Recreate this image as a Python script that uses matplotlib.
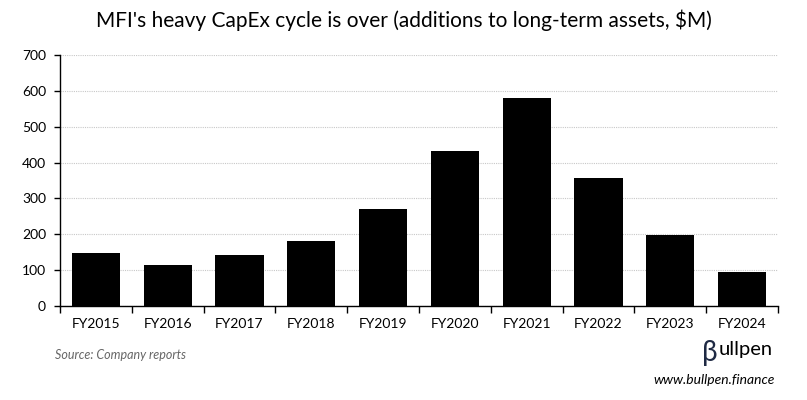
import matplotlib.pyplot as plt
import numpy as np

# Data (additions to long-term assets, $M)
years = ["FY2015", "FY2016", "FY2017", "FY2018", "FY2019",
         "FY2020", "FY2021", "FY2022", "FY2023", "FY2024"]
capex = [147, 114, 142, 181, 270, 432, 581, 357, 198, 94]
y_ticks = [0, 100, 200, 300, 400, 500, 600, 700]

plt.rcParams["font.family"] = ["Lato", "DejaVu Sans"]

fig = plt.figure(figsize=(8.07, 4.00), dpi=100)
ax = fig.add_axes([60 / 807, 1 - 305.7 / 400, 718 / 807, 250.4 / 400])

x = np.arange(len(years))
ax.bar(x, capex, width=0.67, color="black", zorder=3)

ax.set_xlim(-0.5, len(years) - 0.5)
ax.set_ylim(0, 700)
ax.set_yticks(y_ticks)
ax.set_yticklabels([str(t) for t in y_ticks], fontsize=10)

# category labels centred, ticks on the boundaries
ax.set_xticks(x)
ax.set_xticklabels(years, fontsize=10)
ax.tick_params(axis="x", which="major", length=0, pad=9)
ax.set_xticks(np.arange(-0.5, len(years)), minor=True)
ax.tick_params(axis="x", which="minor", length=5, width=1, direction="out")
ax.tick_params(axis="y", length=4, width=1, direction="out", pad=6)

ax.grid(axis="y", color="#c8c8c8", linestyle=(0, (1, 1)), linewidth=0.8, zorder=0)
for s in ["top", "right"]:
    ax.spines[s].set_visible(False)
ax.spines["left"].set_linewidth(1)
ax.spines["bottom"].set_linewidth(1)

fig.text(0.5, 1 - 20 / 400, "MFI's heavy CapEx cycle is over (additions to long-term assets, $M)",
         ha="center", va="center", fontsize=15)
fig.text(55 / 807, 1 - 355 / 400, "Source: Company reports", ha="left", va="center",
         fontsize=9, style="italic", color="#666666")

# Bullpen logo
fig.text(718 / 807, 1 - 353 / 400, "β", ha="right", va="center", fontsize=20, color="#1f2a44")
fig.text(718.5 / 807, 1 - 350 / 400, "ullpen", ha="left", va="center", fontsize=14.5, color="black")
fig.text(775 / 807, 1 - 380 / 400, "www.bullpen.finance", ha="right", va="center",
         fontsize=10, style="italic", color="black")

fig.savefig("out.png", dpi=100)
